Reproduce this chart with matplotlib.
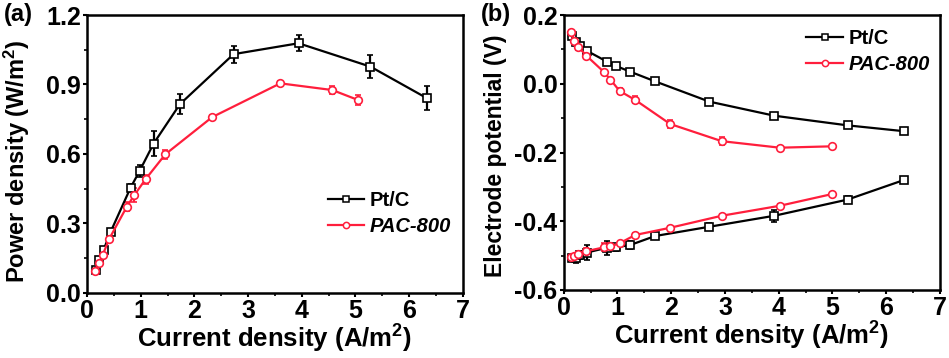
import matplotlib
matplotlib.use("Agg")
import matplotlib.pyplot as plt
from matplotlib.ticker import MultipleLocator, FormatStrFormatter
from matplotlib.lines import Line2D

plt.rcParams['font.family'] = ['Liberation Sans', 'DejaVu Sans']
plt.rcParams['font.weight'] = 'bold'
plt.rcParams['mathtext.fontset'] = 'custom'
plt.rcParams['mathtext.rm'] = 'Liberation Sans:bold'
plt.rcParams['mathtext.bf'] = 'Liberation Sans:bold'
plt.rcParams['mathtext.it'] = 'Liberation Sans:bold:italic'

# ---- Panel (a): power density ----
pt_x_a = [0.16, 0.22, 0.31, 0.44, 0.81, 0.98, 1.24, 1.73, 2.73, 3.94, 5.28, 6.33]
pt_y_a = [0.100, 0.144, 0.187, 0.264, 0.454, 0.527, 0.645, 0.815, 1.031, 1.078, 0.977, 0.841]
pt_e_a = [0.01, 0.01, 0.01, 0.01, 0.015, 0.025, 0.054, 0.043, 0.037, 0.034, 0.050, 0.052]

pac_x_a = [0.155, 0.22, 0.29, 0.41, 0.74, 0.88, 1.09, 1.46, 2.33, 3.60, 4.57, 5.05]
pac_y_a = [0.097, 0.130, 0.163, 0.232, 0.372, 0.422, 0.491, 0.599, 0.759, 0.905, 0.876, 0.833]
pac_e_a = [0.01, 0.01, 0.01, 0.01, 0.02, 0.03, 0.02, 0.02, 0.01, 0.012, 0.018, 0.022]

# ---- Panel (b): electrode potentials ----
pt_x_b = [0.155, 0.23, 0.30, 0.43, 0.81, 0.97, 1.24, 1.70, 2.71, 3.92, 5.28, 6.33]
pt_cat_b = [0.139, 0.122, 0.110, 0.096, 0.064, 0.052, 0.035, 0.007, -0.052, -0.093, -0.121, -0.138]
pt_cat_e = [0.006, 0.005, 0.005, 0.005, 0.005, 0.004, 0.004, 0.004, 0.004, 0.004, 0.004, 0.004]
pt_an_b = [-0.508, -0.506, -0.498, -0.491, -0.477, -0.476, -0.469, -0.443, -0.416, -0.384, -0.337, -0.280]
pt_an_e = [0.008, 0.015, 0.012, 0.022, 0.020, 0.010, 0.012, 0.010, 0.010, 0.017, 0.010, 0.010]

pac_x_b = [0.14, 0.20, 0.27, 0.42, 0.75, 0.87, 1.04, 1.33, 1.98, 2.94, 4.02, 4.99]
pac_cat_b = [0.150, 0.125, 0.108, 0.082, 0.034, 0.012, -0.021, -0.047, -0.117, -0.167, -0.186, -0.182]
pac_cat_e = [0.006, 0.005, 0.005, 0.008, 0.005, 0.005, 0.008, 0.010, 0.013, 0.012, 0.005, 0.004]
pac_an_b = [-0.503, -0.500, -0.495, -0.487, -0.476, -0.473, -0.464, -0.440, -0.419, -0.384, -0.355, -0.321]
pac_an_e = [0.005, 0.005, 0.005, 0.008, 0.012, 0.010, 0.005, 0.005, 0.005, 0.005, 0.005, 0.004]

labels = ['Pt/C', 'PAC-800']

BLACK = '#000000'
RED = '#ff1e3c'

fig = plt.figure(figsize=(9.49, 3.58), dpi=100)
ax1 = fig.add_axes([0.0917, 0.1816, 0.396, 0.7765])
ax2 = fig.add_axes([0.594, 0.19, 0.3965, 0.768])

common = dict(markersize=5.5, markerfacecolor='white', markeredgewidth=1.2,
              linewidth=1.6, elinewidth=1.6, capsize=2.5, capthick=1.6)

ax1.errorbar(pt_x_a, pt_y_a, yerr=pt_e_a, color=BLACK, marker='s',
             markeredgecolor=BLACK, ecolor=BLACK, **common)
ax1.errorbar(pac_x_a, pac_y_a, yerr=pac_e_a, color=RED, marker='o',
             markeredgecolor=RED, ecolor=RED, **common)

ax2.errorbar(pt_x_b, pt_cat_b, yerr=pt_cat_e, color=BLACK, marker='s',
             markeredgecolor=BLACK, ecolor=BLACK, **common)
ax2.errorbar(pac_x_b, pac_cat_b, yerr=pac_cat_e, color=RED, marker='o',
             markeredgecolor=RED, ecolor=RED, **common)
ax2.errorbar(pt_x_b, pt_an_b, yerr=pt_an_e, color=BLACK, marker='s',
             markeredgecolor=BLACK, ecolor=BLACK, **common)
ax2.errorbar(pac_x_b, pac_an_b, yerr=pac_an_e, color=RED, marker='o',
             markeredgecolor=RED, ecolor=RED, **common)

ax1.set_xlim(0, 7)
ax1.set_ylim(0, 1.2)
ax1.xaxis.set_major_locator(MultipleLocator(1))
ax1.xaxis.set_minor_locator(MultipleLocator(0.5))
ax1.yaxis.set_major_locator(MultipleLocator(0.3))
ax1.yaxis.set_minor_locator(MultipleLocator(0.15))
ax1.yaxis.set_major_formatter(FormatStrFormatter('%.1f'))

ax2.set_xlim(0, 7)
ax2.set_ylim(-0.6, 0.2)
ax2.xaxis.set_major_locator(MultipleLocator(1))
ax2.xaxis.set_minor_locator(MultipleLocator(0.5))
ax2.yaxis.set_major_locator(MultipleLocator(0.2))
ax2.yaxis.set_minor_locator(MultipleLocator(0.1))
ax2.yaxis.set_major_formatter(FormatStrFormatter('%.1f'))

for ax in (ax1, ax2):
    for s in ax.spines.values():
        s.set_linewidth(1.8)
    ax.tick_params(which='major', direction='out', length=3, width=1.5,
                   labelsize=18, pad=1.5)
    ax.tick_params(which='minor', direction='out', length=2, width=1.2)
    for lab in ax.get_xticklabels() + ax.get_yticklabels():
        lab.set_fontweight('bold')
    ax.set_xlabel('Current density (A/m$^2$)', fontsize=18.5, fontweight='bold', labelpad=0)

ax1.set_ylabel('Power density (W/m$^2$)', fontsize=17, fontweight='bold')
ax1.yaxis.set_label_coords(-0.146, 0.475)
ax2.set_ylabel('Electrode potential (V)', fontsize=16.5, fontweight='bold')
ax2.yaxis.set_label_coords(-0.152, 0.49)

handles = [
    Line2D([], [], color=BLACK, marker='s', markersize=4.5, markerfacecolor='white',
           markeredgecolor=BLACK, markeredgewidth=1.1, linewidth=1.6),
    Line2D([], [], color=RED, marker='o', markersize=4.5, markerfacecolor='white',
           markeredgecolor=RED, markeredgewidth=1.1, linewidth=1.6),
]

leg_kw = dict(frameon=False, fontsize=14.5, loc='center left', borderpad=0,
              borderaxespad=0, handlelength=1.8, handletextpad=0.3,
              labelspacing=0.35)
leg1 = ax1.legend(handles, labels, bbox_to_anchor=(0.64, 0.286), **leg_kw)
leg2 = ax2.legend(handles, labels, bbox_to_anchor=(0.645, 0.867), **leg_kw)
for leg in (leg1, leg2):
    texts = leg.get_texts()
    texts[0].set_fontweight('bold')
    texts[1].set_fontweight('bold')
    texts[1].set_fontstyle('italic')

fig.text(0.004, 0.96, '(a)', fontsize=17, fontweight='bold', va='center')
fig.text(0.507, 0.96, '(b)', fontsize=17, fontweight='bold', va='center')

fig.savefig('out.png', dpi=100)
